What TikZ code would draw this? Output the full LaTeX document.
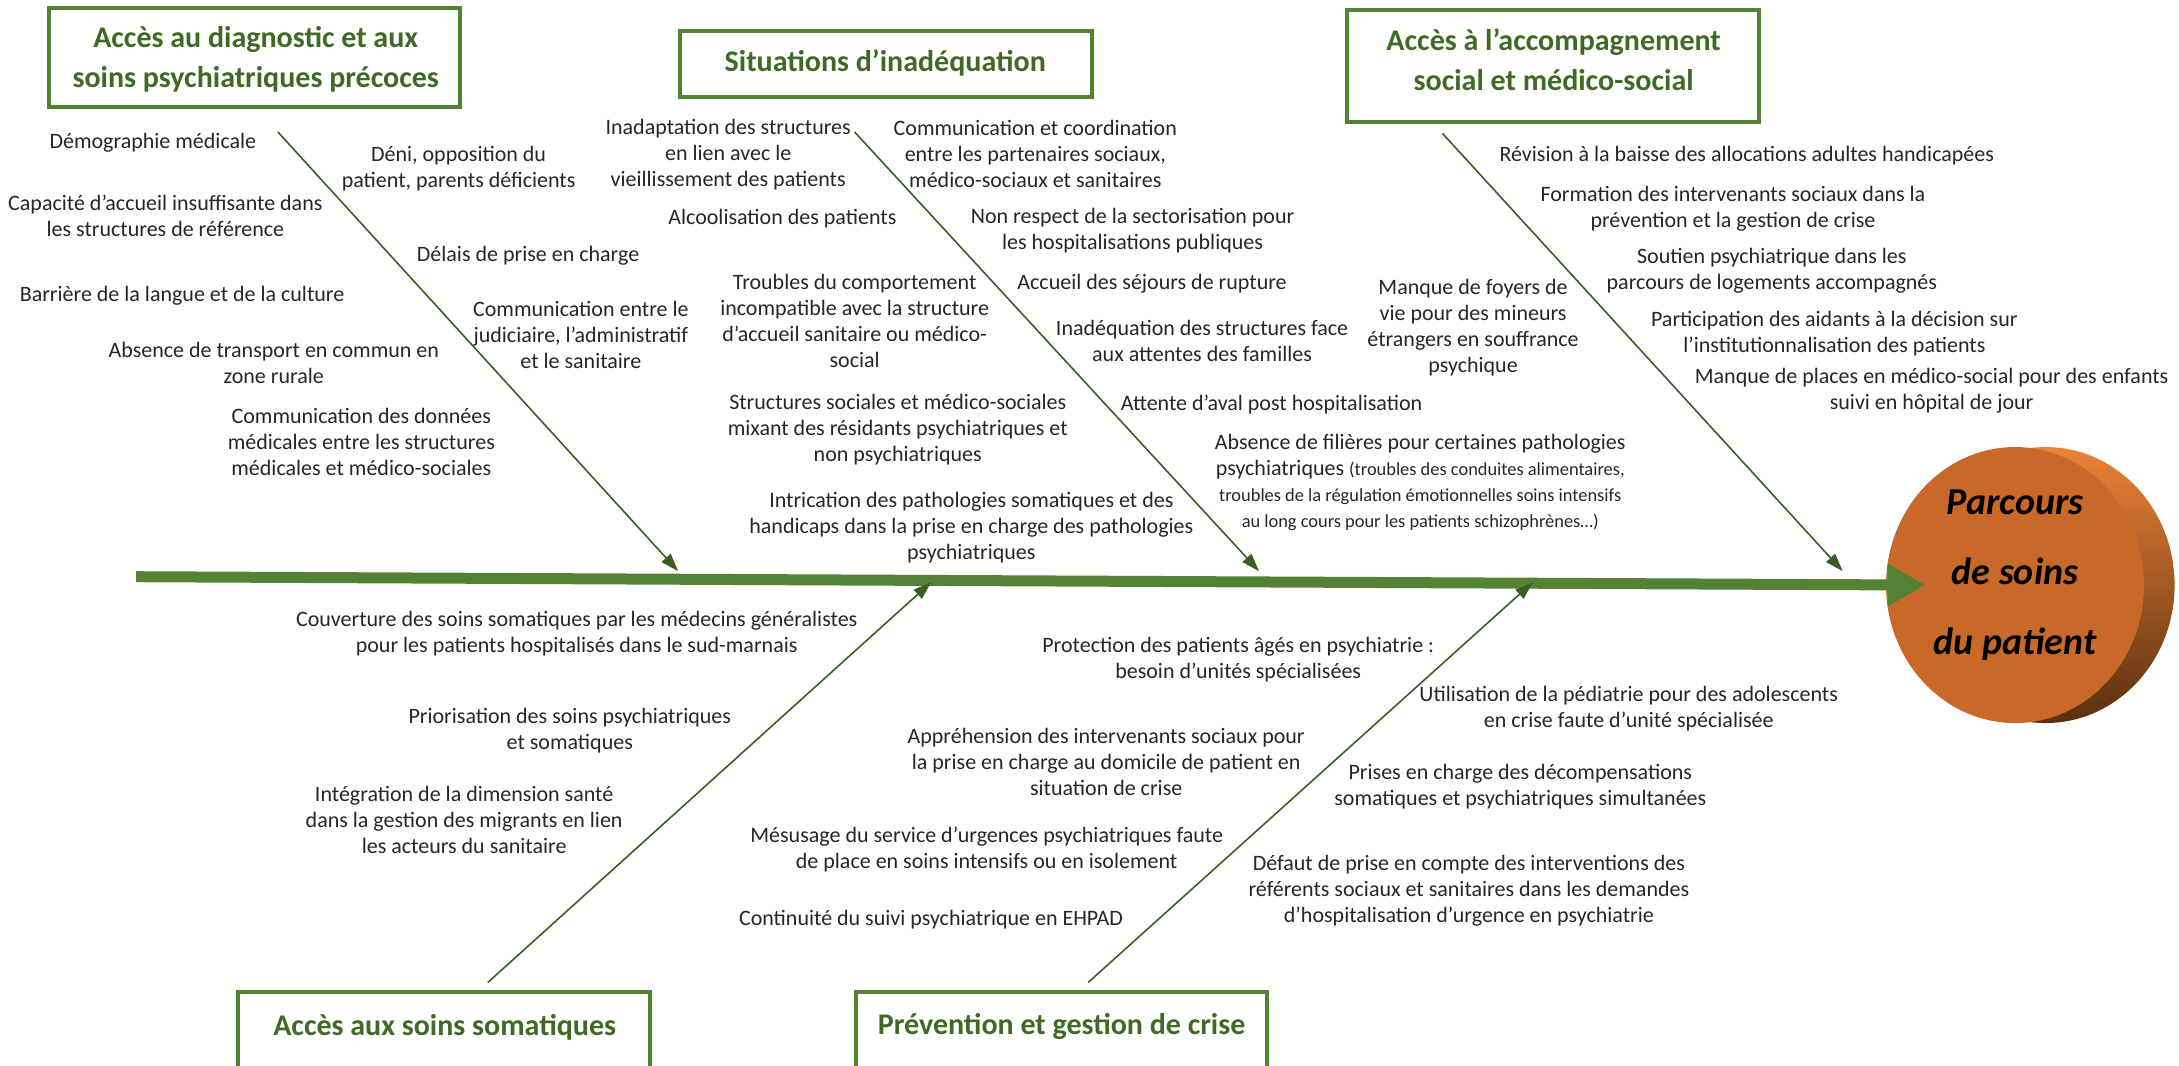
\documentclass[tikz,border=0pt]{standalone}
\usepackage{fontspec}
\setmainfont{Carlito}
\usetikzlibrary{positioning, fit, arrows.meta, shapes.geometric}

\definecolor{boxgreen}{HTML}{548235}
\definecolor{titlegreen}{HTML}{3F6A24}
\definecolor{bonegreen}{HTML}{3D5E22}
\definecolor{discface}{HTML}{C8692A}
\definecolor{discrimtop}{HTML}{EA8236}
\definecolor{discrimbot}{HTML}{5A2F10}

\newcommand{\causefont}{\fontsize{11}{13}\selectfont}
\newcommand{\smallcause}{\fontsize{9.2}{13}\selectfont}
\newcommand{\titlefont}{\fontsize{15}{20}\selectfont\bfseries}
\newcommand{\goalfont}{\fontsize{19}{35}\selectfont\bfseries\itshape}

\begin{document}
\begin{tikzpicture}[
		x=0.69485pt, y=-0.69485pt,
		catbox/.style={rectangle, draw=boxgreen, line width=2pt, inner sep=0pt},
		cattitle/.style={align=center, inner sep=0pt, text=titlegreen, font=\titlefont},
		cause/.style={align=center, inner sep=0pt, text=black!85, font=\causefont},
		bone/.style={bonegreen, line width=0.8pt, -{Triangle[length=9pt, width=6pt]}},
		spine/.style={boxgreen, line width=5.5pt, -{Triangle[length=19pt, width=20pt]}},
		disc/.style={ellipse, inner sep=0pt, minimum width=129pt, minimum height=138pt},
		goaltext/.style={align=center, inner sep=0pt, font=\goalfont}
	]

	\useasboundingbox (0,0) rectangle (1568,767);

	\node[disc, top color=discrimtop, bottom color=discrimbot] (rim) at (1472,421) {};
	\node[disc, fill=discface] (goal) at (1450,421) {};
	\node[goaltext] (goaltxt) at (1450,414) {Parcours\\de soins\\du patient};

	\node[catbox, fit={(35,6) (331,77)}] (diagbox) {};
	\node[cattitle] (diag) at (184,43) {Accès au  diagnostic et aux\\soins psychiatriques  précoces};
	\node[catbox, fit={(489,22) (786,70)}] (inadbox) {};
	\node[cattitle] (inad) at (637,45) {Situations d’inadéquation};
	\node[catbox, fit={(969,7) (1266,88)}] (socbox) {};
	\node[cattitle] (soc) at (1118,43) {Accès à l’accompagnement\\social et médico-social};
	\node[catbox, fit={(171,714) (468,790)}] (somabox) {};
	\node[cattitle] (soma) at (320,739) {Accès aux soins somatiques};
	\node[catbox, fit={(616,714) (912,790)}] (crisebox) {};
	\node[cattitle] (crise) at (764,739) {Prévention et gestion de crise};

	\node[cause] (demo) at (110,103) {Démographie médicale};
	\node[cause] (capa) at (119,155) {Capacité d’accueil insuffisante dans\\les structures de référence};
	\node[cause] (langue) at (131,213) {Barrière de la langue et de la culture};
	\node[cause] (transp) at (197,261) {Absence de transport en commun  en\\zone rurale};
	\node[cause] (donnees) at (260,318) {Communication des données\\médicales entre les structures\\médicales et médico-sociales};
	\node[cause] (deni) at (330,121) {Déni, opposition du\\patient, parents déficients};
	\node[cause] (delais) at (380,184) {Délais de prise en charge};
	\node[cause] (judic) at (418,241) {Communication entre le\\judiciaire, l’administratif\\et le sanitaire};

	\node[cause] (vieil) at (524,111) {Inadaptation des structures\\en lien avec le\\vieillissement des patients};
	\node[cause] (alcool) at (563,157) {Alcoolisation des patients};
	\node[cause] (troubles) at (615,231) {Troubles du comportement\\incompatible avec la structure\\d’accueil sanitaire ou médico-\\social};
	\node[cause] (mixte) at (646,309) {Structures sociales et médico-sociales\\mixant des résidants psychiatriques et\\non psychiatriques};
	\node[cause] (intric) at (699,380) {Intrication des pathologies somatiques et des\\handicaps  dans la prise en charge des pathologies\\psychiatriques};
	\node[cause] (coord) at (745,111) {Communication et coordination\\entre les partenaires sociaux,\\médico-sociaux et sanitaires};
	\node[cause] (secto) at (815,166) {Non respect de la sectorisation pour\\les hospitalisations publiques};
	\node[cause] (rupture) at (829,204) {Accueil des séjours de rupture};
	\node[cause] (familles) at (865,245) {Inadéquation des structures face\\aux attentes des familles};
	\node[cause] (aval) at (915,291) {Attente d’aval post hospitalisation};
	\node[cause] (filieres) at (1022,347) {Absence de filières pour certaines pathologies\\psychiatriques {\smallcause (troubles des conduites alimentaires,}\\{\smallcause troubles de la régulation émotionnelles soins intensifs}\\{\smallcause au long cours pour les patients schizophrènes…)}};

	\node[cause] (foyers) at (1060,236) {Manque de foyers de\\vie pour des mineurs\\étrangers en souffrance\\psychique};
	\node[cause] (aah) at (1257,112) {Révision à la baisse des allocations adultes handicapées};
	\node[cause] (formation) at (1247,150) {Formation des intervenants sociaux dans la\\prévention et la gestion de crise};
	\node[cause] (logement) at (1275,195) {Soutien psychiatrique dans les\\parcours de logements accompagnés};
	\node[cause] (aidants) at (1320,240) {Participation des aidants à la décision sur\\l’institutionnalisation des patients};
	\node[cause] (places) at (1390,281) {Manque de places  en médico-social pour des enfants\\suivi en hôpital de jour};

	\node[cause] (couverture) at (415,456) {Couverture des soins somatiques par les médecins généralistes\\pour les patients hospitalisés  dans le sud-marnais};
	\node[cause] (priorite) at (410,526) {Priorisation des soins psychiatriques\\et somatiques};
	\node[cause] (migrants) at (334,590) {Intégration de la dimension santé\\dans la gestion des migrants en lien\\les acteurs du sanitaire};

	\node[cause] (ages) at (891,475) {Protection des patients âgés en psychiatrie :\\besoin d’unités spécialisées};
	\node[cause] (domicile) at (796,548) {Appréhension des intervenants sociaux pour\\la prise en charge au domicile de patient en\\situation de crise};
	\node[cause] (urgences) at (710,611) {Mésusage du service d’urgences psychiatriques faute\\de place en soins intensifs ou en isolement};
	\node[cause] (ehpad) at (670,662) {Continuité du suivi psychiatrique en EHPAD};
	\node[cause] (pediatrie) at (1172,510) {Utilisation de la pédiatrie pour des adolescents\\en crise faute d’unité spécialisée};
	\node[cause] (decomp) at (1094,566) {Prises en charge des décompensations\\somatiques et psychiatriques simultanées};
	\node[cause] (referents) at (1057,641) {Défaut de prise en compte des interventions des\\référents sociaux et sanitaires dans les demandes\\d’hospitalisation d’urgence en psychiatrie};

	\coordinate (tail) at (98,415);
	\draw[spine] (tail) -- ([xshift=20pt]goal.west);

	\coordinate (diagfrom) at (200,95);
	\coordinate (diagto) at (488,411);
	\coordinate (inadfrom) at (615,95);
	\coordinate (inadto) at (906,411);
	\coordinate (socfrom) at (1038,96);
	\coordinate (socto) at (1326,411);
	\coordinate (somafrom) at (351,707);
	\coordinate (somato) at (670,419);
	\coordinate (crisefrom) at (783,707);
	\coordinate (criseto) at (1103,419);

	\foreach \i/\j in {diagfrom/diagto, inadfrom/inadto, socfrom/socto, somafrom/somato, crisefrom/criseto}
		\draw[bone] (\i) -- (\j);

\end{tikzpicture}
\end{document}
